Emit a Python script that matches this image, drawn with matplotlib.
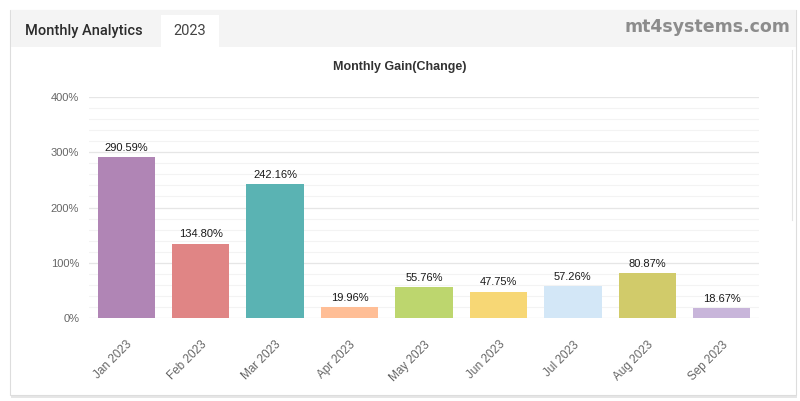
import matplotlib
matplotlib.use("Agg")
import matplotlib.pyplot as plt
from matplotlib.patches import Rectangle
from matplotlib.ticker import MultipleLocator, FuncFormatter

months = ["Jan 2023", "Feb 2023", "Mar 2023", "Apr 2023", "May 2023",
          "Jun 2023", "Jul 2023", "Aug 2023", "Sep 2023"]
gains = [290.59, 134.80, 242.16, 19.96, 55.76, 47.75, 57.26, 80.87, 18.67]
colors = ["#B085B5", "#E08585", "#5AB3B3", "#FFBE96", "#BDD66E",
          "#F7D775", "#D3E7F7", "#D1CB6A", "#C8B5DA"]

plt.rcParams['font.family'] = ['Liberation Sans', 'DejaVu Sans']

W, H = 800, 401
fig = plt.figure(figsize=(W / 100, H / 100), dpi=100)
fig.patch.set_facecolor("white")

def fx(x):
    return x / W

def fy(y):
    return 1 - y / H

# panel shadow and border
fig.add_artist(Rectangle((fx(11), fy(398)), fx(786), 388 / H, transform=fig.transFigure,
                         facecolor="#e6e6e6", edgecolor="none", zorder=0))
fig.add_artist(Rectangle((fx(10), fy(395)), fx(786), 385 / H, transform=fig.transFigure,
                         facecolor="white", edgecolor="#dddddd", lw=0.8, zorder=1))
# tab bar
fig.add_artist(Rectangle((fx(10.5), fy(47)), fx(785), 36.5 / H, transform=fig.transFigure,
                         facecolor="#f4f4f4", edgecolor="none", zorder=2))
fig.add_artist(Rectangle((fx(161), fy(48)), fx(58), 33 / H, transform=fig.transFigure,
                         facecolor="white", edgecolor="none", zorder=3))
fig.text(fx(25), fy(31), "Monthly Analytics", fontsize=10.5, color="#2b2b2b",
         va="center", ha="left", zorder=4, fontweight="medium",
         family=["Roboto", "DejaVu Sans"])
fig.text(fx(190), fy(31), "2023", fontsize=10.5, color="#444444",
         va="center", ha="center", zorder=4, family=["Roboto", "DejaVu Sans"])
fig.text(fx(790), fy(27), "mt4systems.com", fontsize=12.5, color="#8c8c8c",
         va="center", ha="right", fontweight="bold", zorder=4,
         family=["DejaVu Sans"])
# right divider line
fig.add_artist(plt.Line2D([fx(792), fx(792)], [fy(50), fy(220)], transform=fig.transFigure,
                          color="#e4e4e4", lw=0.8, zorder=2))

ax = fig.add_axes([fx(89), 83 / H, fx(670), 221 / H], zorder=5)
ax.set_facecolor("none")
x = range(len(months))
bars = ax.bar(x, gains, width=0.77, color=colors, zorder=3)
ax.set_xlim(-0.5, len(months) - 0.5)
ax.set_ylim(0, 400)
ax.yaxis.set_major_locator(MultipleLocator(100))
ax.yaxis.set_minor_locator(MultipleLocator(20))
ax.yaxis.set_major_formatter(FuncFormatter(lambda v, p: f"{int(v)}%"))
ax.grid(axis="y", which="major", color="#e6e6e6", lw=0.9, zorder=0)
ax.grid(axis="y", which="minor", color="#f3f3f3", lw=0.8, zorder=0)
for s in ax.spines.values():
    s.set_visible(False)
ax.tick_params(axis="y", which="both", length=0, labelsize=8, labelcolor="#666666", pad=7)
ax.tick_params(axis="x", length=0, labelsize=8.5, labelcolor="#666666", pad=15)
ax.set_xticks(list(x))
ax.set_xticklabels(months, rotation=45, ha="right", rotation_mode="anchor")
for i, v in enumerate(gains):
    ax.annotate(f"{v:.2f}%", (i, v), xytext=(0, 3), textcoords="offset points",
                ha="center", va="bottom", fontsize=8, color="#1a1a1a", zorder=4)

fig.text(0.5, fy(67), "Monthly Gain(Change)", fontsize=9, fontweight="bold",
         color="#333333", ha="center", va="center")

fig.savefig("out.png", dpi=100)
